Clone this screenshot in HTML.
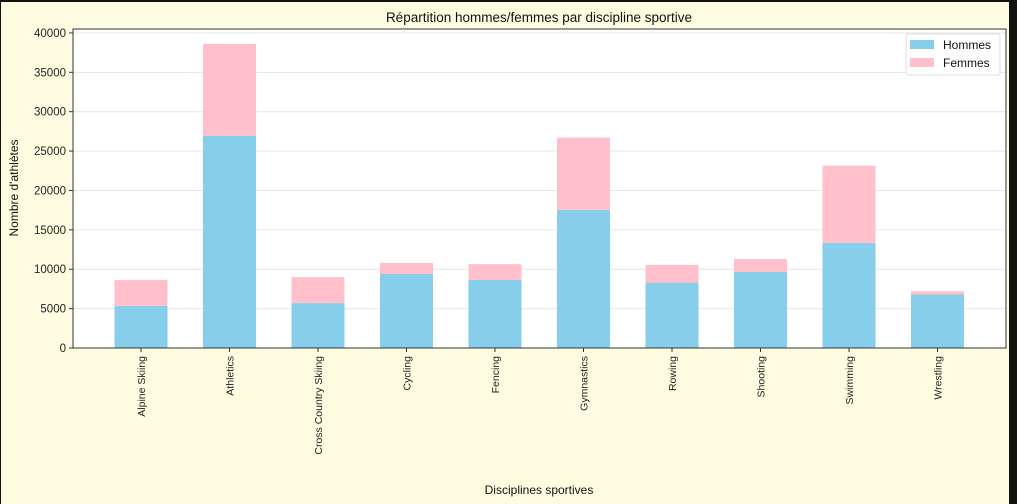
<!DOCTYPE html>
<html><head><meta charset="utf-8"><style>
body{margin:0;background:#111;}
#wrap{position:absolute;left:1px;top:2px;width:1008px;height:502px;background:#fffde1;}
svg{position:absolute;left:0;top:0;font-family:"Liberation Sans",sans-serif;}
</style></head><body>
<div id="wrap"></div>
<svg id="chart" width="1017" height="504"></svg>
<script>
const categories=["Alpine Skiing","Athletics","Cross Country Skiing","Cycling","Fencing","Gymnastics","Rowing","Shooting","Swimming","Wrestling"];
const hommes=[5350,26950,5700,9400,8650,17550,8300,9650,13350,6800];
const femmes=[3300,11650,3300,1400,2000,9150,2250,1650,9800,400];
const yTicks=[0,5000,10000,15000,20000,25000,30000,35000,40000];
const svg=document.getElementById('chart');
const NS='http://www.w3.org/2000/svg';
const L=73,R=1006,T=29,B=348;
const yMax=40500;
function y(v){return B-(v/yMax)*(B-T);}
const step=88.5,x0=141;
function x(i){return x0+i*step;}
const bw=53;
function mk(tag,attrs,parent){const e=document.createElementNS(NS,tag);for(const k in attrs)e.setAttribute(k,attrs[k]);(parent||svg).appendChild(e);return e;}
mk('rect',{x:L,y:T,width:R-L,height:B-T,fill:'#fff'});
yTicks.forEach(t=>{
 const g=mk('line',{x1:L,x2:R,y1:y(t),y2:y(t),stroke:'#e6e6e6','stroke-width':1});
 
 
 mk('line',{x1:L-4,x2:L,y1:y(t),y2:y(t),stroke:'#333'});
 const tx=mk('text',{x:L-7,y:y(t)+4,'text-anchor':'end','font-size':11.5,fill:'#222'});
 tx.textContent=t;
 
 
});
categories.forEach((c,i)=>{
 const b1=mk('rect',{x:x(i)-bw/2,y:y(hommes[i]),width:bw,height:B-y(hommes[i]),fill:'#87ceeb'});
 
 
 const b2=mk('rect',{x:x(i)-bw/2,y:y(hommes[i]+femmes[i]),width:bw,height:y(hommes[i])-y(hommes[i]+femmes[i]),fill:'#ffc0cb'});
 
 
 mk('line',{x1:x(i),x2:x(i),y1:B,y2:B+4,stroke:'#333'});
 const tx=mk('text',{transform:`translate(${x(i)+4},${B+8}) rotate(-90)`,'text-anchor':'end','font-size':10.5,fill:'#222'});
 tx.textContent=c;
 
 
});
mk('rect',{x:L,y:T,width:R-L,height:B-T,fill:'none',stroke:'#333','stroke-width':1});
</script>
<svg width="1017" height="504" style="position:absolute;left:0;top:0;font-family:'Liberation Sans',sans-serif">
<text x="539" y="22" text-anchor="middle" font-size="13.5" fill="#111">Répartition hommes/femmes par discipline sportive</text>
<text x="539" y="494" text-anchor="middle" font-size="12" fill="#111">Disciplines sportives</text>
<text transform="translate(18,188) rotate(-90)" text-anchor="middle" font-size="12" fill="#111">Nombre d'athlètes</text>
<g>
<rect x="906" y="34" width="94" height="41" fill="#fff" stroke="#ddd" rx="2"/>
<rect x="910" y="40" width="24" height="9" fill="#87ceeb"/>
<text x="943" y="49" font-size="12" fill="#111">Hommes</text>
<rect x="910" y="58" width="24" height="9" fill="#ffc0cb"/>
<text x="943" y="67" font-size="12" fill="#111">Femmes</text>
</g>
</svg>
</body></html>
